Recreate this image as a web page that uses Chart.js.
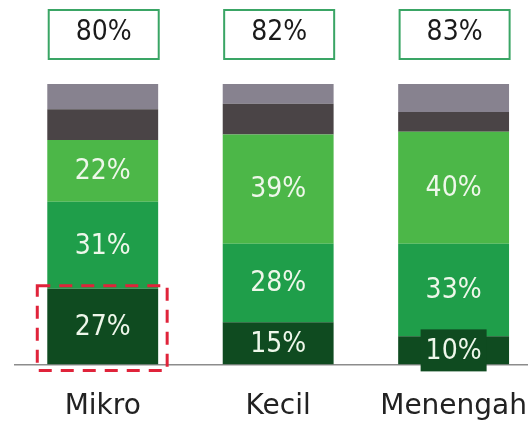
<!DOCTYPE html>
<html><head><meta charset="utf-8">
<script src="https://cdn.jsdelivr.net/npm/chart.js@4/dist/chart.umd.min.js"></script>
<style>html,body{margin:0;padding:0;background:#fff;overflow:hidden;width:528px;height:424px}#wrap{width:553px;height:450px}</style>
</head><body><div id="wrap"><canvas id="c" width="553" height="450"></canvas></div>
<script>
const categories = ['Mikro', 'Kecil', 'Menengah'];
const darkGreen  = [27, 15, 10];
const midGreen   = [31, 28, 33];
const lightGreen = [22, 39, 40];
const darkGray   = [11, 11, 7];
const lightGray  = [9, 7, 10];
const highlightIndex = 0;

const colors = ['#0f4b20', '#1f9e4a', '#4cb748', '#4a4446', '#87828f'];
const series = [darkGreen, midGreen, lightGreen, darkGray, lightGray];
const totals = categories.map((_, i) => darkGreen[i] + midGreen[i] + lightGreen[i]);

const labelFont = '28px "DejaVu Sans Condensed", "DejaVu Sans", sans-serif';

const overlay = {
  id: 'overlay',
  afterDatasetsDraw(chart) {
    const ctx = chart.ctx;
    ctx.save();
    ctx.font = labelFont;
    ctx.textAlign = 'center';
    ctx.textBaseline = 'middle';
    [0, 1, 2].forEach(di => {
      const meta = chart.getDatasetMeta(di);
      const ds = chart.data.datasets[di];
      meta.data.forEach((bar, i) => {
        const cy = (bar.y + bar.base) / 2;
        const h = Math.abs(bar.base - bar.y);
        const txt = ds.data[i] + '%';
        if (h < 36) {
          const w = ctx.measureText(txt).width + 10;
          ctx.fillStyle = ds.backgroundColor;
          ctx.fillRect(bar.x - w / 2, cy - 21, w, 42);
        }
        ctx.fillStyle = '#eef7ea';
        ctx.fillText(txt, bar.x, cy + 1);
      });
    });
    // highlight dashed box
    const hb = chart.getDatasetMeta(0).data[highlightIndex];
    const half = hb.width / 2;
    ctx.strokeStyle = '#e0233a';
    ctx.lineWidth = 3;
    ctx.setLineDash([13, 9]);
    ctx.strokeRect(hb.x - half - 10, hb.y - 3, hb.width + 19, hb.base - hb.y + 9);
    ctx.setLineDash([]);
    // total boxes
    const meta0 = chart.getDatasetMeta(0);
    meta0.data.forEach((bar, i) => {
      ctx.strokeStyle = '#3aa565';
      ctx.lineWidth = 2;
      ctx.strokeRect(bar.x - 54, 10, 110, 49);
      ctx.fillStyle = '#1a1a1a';
      ctx.fillText(totals[i] + '%', bar.x + 1, 33);
    });
    ctx.restore();
  }
};

new Chart(document.getElementById('c'), {
  type: 'bar',
  data: {
    labels: categories,
    datasets: series.map((d, i) => ({
      data: d,
      backgroundColor: colors[i],
      borderWidth: 0,
      barPercentage: 0.632,
      categoryPercentage: 1.0
    }))
  },
  options: {
    responsive: false,
    animation: false,
    devicePixelRatio: 1,
    layout: { padding: { top: 84, left: 15, right: 0, bottom: 0 } },
    plugins: { legend: { display: false }, tooltip: { enabled: false } },
    scales: {
      x: {
        stacked: true,
        grid: { display: false, drawTicks: false },
        border: { display: true, color: '#8c8c8c', width: 1.5 },
        ticks: { color: '#222', font: { family: 'DejaVu Sans', size: 28 }, padding: 26 }
      },
      y: { stacked: true, display: false, min: 0, max: 100 }
    }
  },
  plugins: [overlay]
});
</script>
</body></html>
